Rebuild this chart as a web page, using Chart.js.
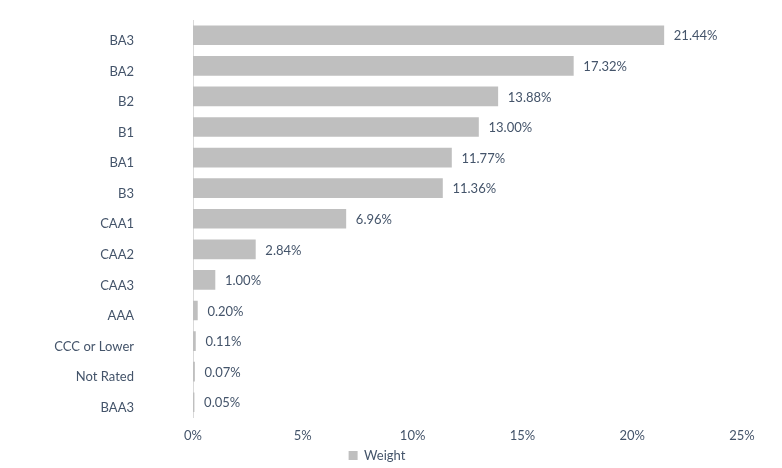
<!DOCTYPE html>
<html>
<head>
<meta charset="utf-8">
<script src="https://cdn.jsdelivr.net/npm/chart.js@4/dist/chart.umd.min.js"></script>
<style>
  html, body { margin: 0; padding: 0; background: #ffffff; }
  #wrap { width: 782px; height: 468px; position: relative; }
</style>
</head>
<body>
<div id="wrap"><canvas id="c"></canvas></div>
<script>
const categories = ["BA3", "BA2", "B2", "B1", "BA1", "B3", "CAA1", "CAA2", "CAA3", "AAA", "CCC or Lower", "Not Rated", "BAA3"];
const weightValues = [21.44, 17.32, 13.88, 13.00, 11.77, 11.36, 6.96, 2.84, 1.00, 0.20, 0.11, 0.07, 0.05];
const xTickValues = [0, 5, 10, 15, 20, 25];
const seriesName = "Weight";

const textColor = "#44546A";
const fontFamily = "Lato, 'Open Sans', sans-serif";

const valueLabels = {
  id: "valueLabels",
  afterDatasetsDraw(chart) {
    const ctx = chart.ctx;
    const meta = chart.getDatasetMeta(0);
    ctx.save();
    ctx.font = "13px " + fontFamily;
    ctx.fillStyle = textColor;
    ctx.textAlign = "left";
    ctx.textBaseline = "middle";
    meta.data.forEach((bar, i) => {
      const v = chart.data.datasets[0].data[i];
      ctx.fillText(v.toFixed(2) + "%", bar.x + 10, bar.y + 1);
    });
    ctx.restore();
  }
};

new Chart(document.getElementById("c"), {
  type: "bar",
  data: {
    labels: categories,
    datasets: [{
      label: seriesName,
      data: weightValues,
      backgroundColor: "#BFBFBF",
      borderWidth: 0,
      barThickness: 19
    }]
  },
  options: {
    indexAxis: "y",
    responsive: true,
    maintainAspectRatio: false,
    animation: false,
    layout: { padding: { left: 0, right: 28, top: 20, bottom: -4 } },
    scales: {
      x: {
        min: 0,
        max: 25,
        afterBuildTicks(scale) { scale.ticks = xTickValues.map(v => ({ value: v })); },
        afterFit(scale) { scale.paddingRight = 40; scale.height = 31.5; },
        grid: { display: false, drawTicks: false },
        border: { display: false },
        ticks: {
          padding: 11,
          color: textColor,
          font: { size: 13, family: fontFamily },
          maxRotation: 0,
          callback: v => v + "%"
        }
      },
      y: {
        grid: { display: false, drawTicks: false },
        border: { display: true, color: "#D9D9D9", width: 1 },
        afterFit(scale) { scale.width = 193; scale.paddingTop = 0; scale.paddingBottom = 0; },
        ticks: {
          padding: 59,
          labelOffset: 5.5,
          color: textColor,
          font: { size: 13, family: fontFamily }
        }
      }
    },
    plugins: {
      legend: {
        display: true,
        position: "bottom",
        labels: {
          color: textColor,
          font: { size: 13, family: fontFamily },
          boxWidth: 9,
          boxHeight: 9,
          padding: 0
        }
      },
      tooltip: { enabled: false }
    }
  },
  plugins: [valueLabels]
});
</script>
</body>
</html>
